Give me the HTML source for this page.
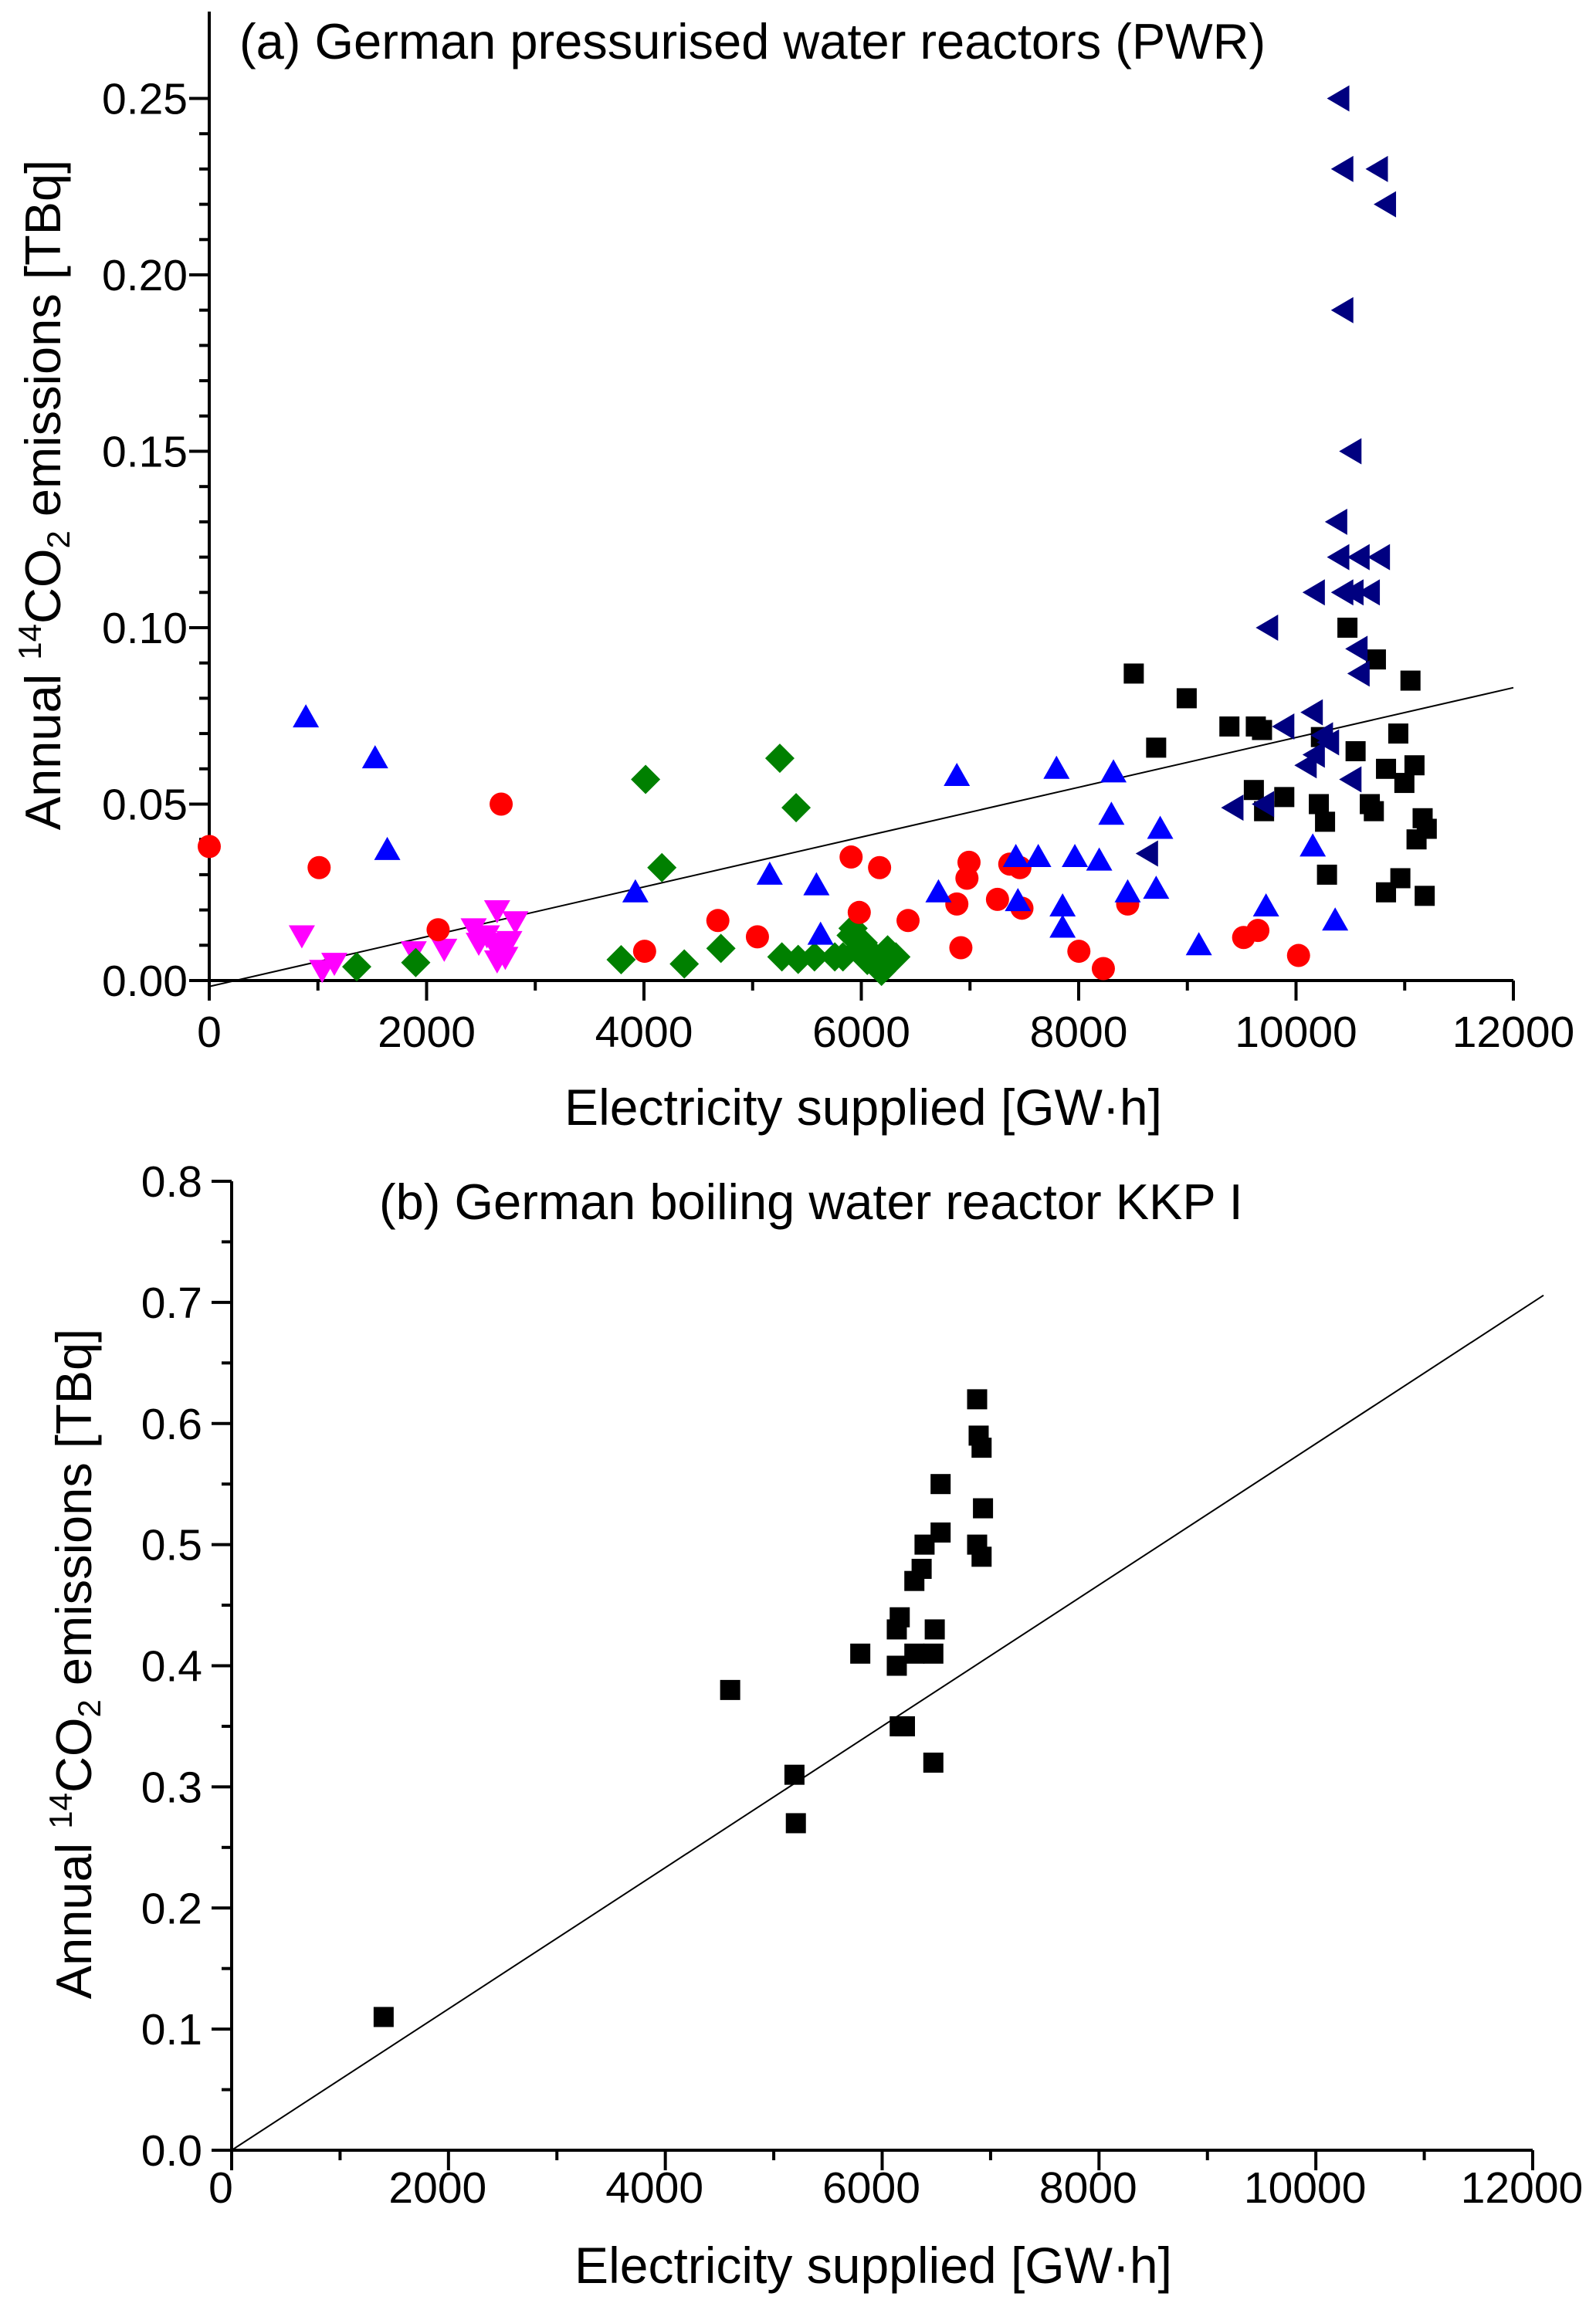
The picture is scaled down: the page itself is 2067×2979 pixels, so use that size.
<!DOCTYPE html>
<html><head><meta charset="utf-8"><style>
html,body{margin:0;padding:0;background:#fff;}
svg{display:block;font-family:"Liberation Sans",Arial,sans-serif;}
</style></head><body>
<svg id="chart" width="2067" height="2979" viewBox="0 0 2067 2979" xmlns="http://www.w3.org/2000/svg">
<g id="pa"></g>
<g id="pb"></g>
</svg>
<script>
// ---- Panel (a) data ----
const navyX=[10398,10435,10753,10828,10435,10510,10379,10398,10585,10772,10173,10435,10529,10679,9743,10566,10585,10154,9892,10248,10304,10098,10173,10510,9706,9424,8638];
const navyY=[0.25,0.23,0.23,0.22,0.19,0.15,0.13,0.12,0.12,0.12,0.11,0.11,0.11,0.11,0.10,0.094,0.087,0.076,0.072,0.0695,0.0675,0.061,0.064,0.057,0.050,0.049,0.036];
const blackX=[8507,8994,9387,9630,9687,10473,10735,11053,10941,10229,8713,10548,10828,11090,9612,9892,10997,10210,10679,9706,10716,10267,11165,11203,11109,10285,10960,10828,11184];
const blackY=[0.087,0.080,0.072,0.072,0.071,0.100,0.091,0.085,0.070,0.069,0.066,0.065,0.060,0.061,0.054,0.052,0.056,0.050,0.050,0.048,0.048,0.045,0.046,0.043,0.040,0.030,0.029,0.025,0.024];
const blueX=[889,1526,1638,3921,5157,5587,5625,6710,6879,7422,7441,7628,7796,7852,7852,7965,8189,8301,8320,8451,8713,8750,9106,9724,10154,10360];
const blueY=[0.0746,0.063,0.037,0.025,0.030,0.027,0.013,0.025,0.058,0.035,0.0225,0.035,0.060,0.021,0.015,0.035,0.034,0.047,0.059,0.025,0.026,0.043,0.010,0.021,0.038,0.017];
const redX=[0,1011,2106,2686,4006,4680,5044,5906,5981,6168,6430,6879,6916,6972,6991,7253,7366,7459,7478,8002,8227,8451,9518,9649,10023];
const redY=[0.038,0.032,0.0144,0.050,0.0083,0.017,0.0124,0.035,0.0193,0.032,0.017,0.0217,0.0093,0.029,0.0335,0.023,0.033,0.032,0.0205,0.0083,0.0034,0.0217,0.0122,0.0142,0.0071];
const greenX=[1357,1900,3790,4015,4165,4371,4708,5250,5269,5400,5419,5569,5756,5906,5924,5962,6018,6130,6186,6242,6280,6318,5831,6055,6168];
const greenY=[0.0039,0.0051,0.0059,0.057,0.032,0.0047,0.0091,0.063,0.0067,0.049,0.006,0.0067,0.0067,0.0128,0.0148,0.0087,0.0107,0.0067,0.0026,0.0087,0.0057,0.0067,0.0067,0.0057,0.005];
const magX=[852,1039,1151,1881,2162,2433,2555,2649,2611,2705,2761,2817,2649,2724,2480];
const magY=[0.0128,0.003,0.005,0.0083,0.009,0.0148,0.0128,0.0199,0.0107,0.0087,0.0112,0.0168,0.0057,0.0067,0.0107];
const fitA=[-0.0017,0.083]; // fit values at x=0 and x=12000
const aXTicks=["0","2000","4000","6000","8000","10000","12000"];
const aYTicks=["0.00","0.05","0.10","0.15","0.20","0.25"];
// ---- Panel (b) data ----
const kkpX=[1402,4598,5191,5204,5798,6135,6162,6135,6162,6210,6297,6364,6391,6297,6472,6485,6472,6539,6539,6876,6890,6917,6930,6876,6917];
const kkpY=[0.11,0.38,0.31,0.27,0.41,0.43,0.44,0.40,0.35,0.35,0.47,0.48,0.50,0.41,0.41,0.43,0.32,0.51,0.55,0.62,0.59,0.58,0.53,0.50,0.49];
const fitB=[0,0.70]; // at x=0 and x=12000
const bXTicks=["0","2000","4000","6000","8000","10000","12000"];
const bYTicks=["0.0","0.1","0.2","0.3","0.4","0.5","0.6","0.7","0.8"];

const NS="http://www.w3.org/2000/svg";
function mk(parent,tag,attrs){const e=document.createElementNS(NS,tag);for(const k in attrs)e.setAttribute(k,attrs[k]);parent.appendChild(e);return e;}

const ax={x0:271,x1:1960,y0:1270,y1:127.5,xmax:12000,ymax:0.25};
const bx={x0:300,x1:1985,y0:2785,y1:1530,xmax:12000,ymax:0.8};
function sx(a,v){return a.x0+(a.x1-a.x0)*v/a.xmax;}
function sy(a,v){return a.y0-(a.y0-a.y1)*v/a.ymax;}

function marker(g,shape,x,y,color){
  let e;
  if(shape==='square'){e=mk(g,'rect',{x:x-13,y:y-13,width:26,height:26,fill:color});}
  else if(shape==='circle'){e=mk(g,'circle',{cx:x,cy:y,r:15,fill:color});}
  else if(shape==='up'){e=mk(g,'polygon',{points:`${x},${y-17} ${x+17},${y+13} ${x-17},${y+13}`,fill:color});}
  else if(shape==='down'){e=mk(g,'polygon',{points:`${x},${y+17} ${x+17},${y-13} ${x-17},${y-13}`,fill:color});}
  else if(shape==='left'){e=mk(g,'polygon',{points:`${x-16},${y} ${x+13},${y-17} ${x+13},${y+17}`,fill:color});}
  else if(shape==='diamond'){e=mk(g,'polygon',{points:`${x},${y-19} ${x+19},${y} ${x},${y+19} ${x-19},${y}`,fill:color});}
  return e;
}

function drawAxes(g,a,xt,yt,yMinorStep,yMajorStep,xlabDy,xlabShift,ylabEnd,axisTop){
  const axisG=mk(g,'g',{});
  
  
  mk(axisG,'line',{x1:a.x0,y1:axisTop,x2:a.x0,y2:a.y0+26,stroke:'#000','stroke-width':4});
  mk(axisG,'line',{x1:a.x0-26,y1:a.y0,x2:a.x1,y2:a.y0,stroke:'#000','stroke-width':4});
  for(let v=0;v<=a.xmax;v+=1000){
    const major=v%2000===0;const x=sx(a,v);
    mk(axisG,'line',{x1:x,y1:a.y0,x2:x,y2:a.y0+(major?26:13),stroke:'#000','stroke-width':4});
  }
  xt.forEach((t,i)=>{const v=i*2000;
    const tx=mk(axisG,'text',{x:sx(a,v)+xlabShift,y:a.y0+xlabDy,'text-anchor':'middle','font-size':57,fill:'#000'});
    tx.textContent=t;
    
    
  });
  const nMinor=Math.round(a.ymax/yMinorStep);
  const ratio=Math.round(yMajorStep/yMinorStep);
  for(let i=0;i<=nMinor;i++){
    const y=sy(a,i*yMinorStep);const major=i%ratio===0;
    mk(axisG,'line',{x1:a.x0,y1:y,x2:a.x0-(major?26:13),y2:y,stroke:'#000','stroke-width':4});
  }
  yt.forEach((t,i)=>{
    const tx=mk(axisG,'text',{x:ylabEnd,y:sy(a,i*yMajorStep)+20,'text-anchor':'end','font-size':57,fill:'#000'});
    tx.textContent=t;
    
    
  });
}

function yTitle(g,cx,cy){
  const t=mk(g,'text',{x:0,y:0,transform:`translate(${cx},${cy}) rotate(-90)`,'text-anchor':'middle','font-size':65,fill:'#000'});
  t.innerHTML='Annual <tspan font-size="42" dy="-25">14</tspan><tspan dy="25">CO</tspan><tspan font-size="42" dy="12">2</tspan><tspan dy="-12"> emissions [TBq]</tspan>';
  
  
}
function text(g,x,y,s,anchor,name,fs){
  const t=mk(g,'text',{x:x,y:y,'text-anchor':anchor,'font-size':fs,fill:'#000'});
  t.textContent=s;
  
  
}

// ---- Panel a ----
const pa=document.getElementById('pa');
drawAxes(pa,ax,aXTicks,aYTicks,0.01,0.05,86,0,243,15);
const fa=mk(pa,'line',{x1:sx(ax,0),y1:sy(ax,fitA[0]),x2:sx(ax,12000),y2:sy(ax,fitA[1]),stroke:'#000','stroke-width':2});


const seriesA=[
  ['series-magenta','down','#ff00ff',magX,magY],
  ['series-green','diamond','#008000',greenX,greenY],
  ['series-red','circle','#ff0000',redX,redY],
  ['series-blue','up','#0000ff',blueX,blueY],
  ['series-black','square','#000000',blackX,blackY],
  ['series-navy','left','#000080',navyX,navyY]
];
seriesA.forEach(s=>{
  const g=mk(pa,'g',{});
  
  
  s[3].forEach((xv,i)=>{
    const m=marker(g,s[1],sx(ax,xv),sy(ax,s[4][i]),s[2]);
    
    
  });
});
text(pa,310,76,'(a) German pressurised water reactors (PWR)','start','panel-a-title',65);
text(pa,1118,1457,'Electricity supplied [GW·h]','middle','x-axis-title-a',66);
yTitle(pa,78,641);

// ---- Panel b ----
const pb=document.getElementById('pb');
drawAxes(pb,bx,bXTicks,bYTicks,0.05,0.1,68,-14,262,1530);
const fb=mk(pb,'line',{x1:sx(bx,0),y1:sy(bx,fitB[0]),x2:sx(bx,12100),y2:sy(bx,fitB[1]*12100/12000),stroke:'#000','stroke-width':2});


const gb=mk(pb,'g',{});


kkpX.forEach((xv,i)=>{
  const m=marker(gb,'square',sx(bx,xv),sy(bx,kkpY[i]),'#000');
  
  
});
text(pb,491,1579,'(b) German boiling water reactor KKP I','start','panel-b-title',65);
text(pb,1131,2957,'Electricity supplied [GW·h]','middle','x-axis-title-b',66);
yTitle(pb,118,2155);
</script>
</body></html>
